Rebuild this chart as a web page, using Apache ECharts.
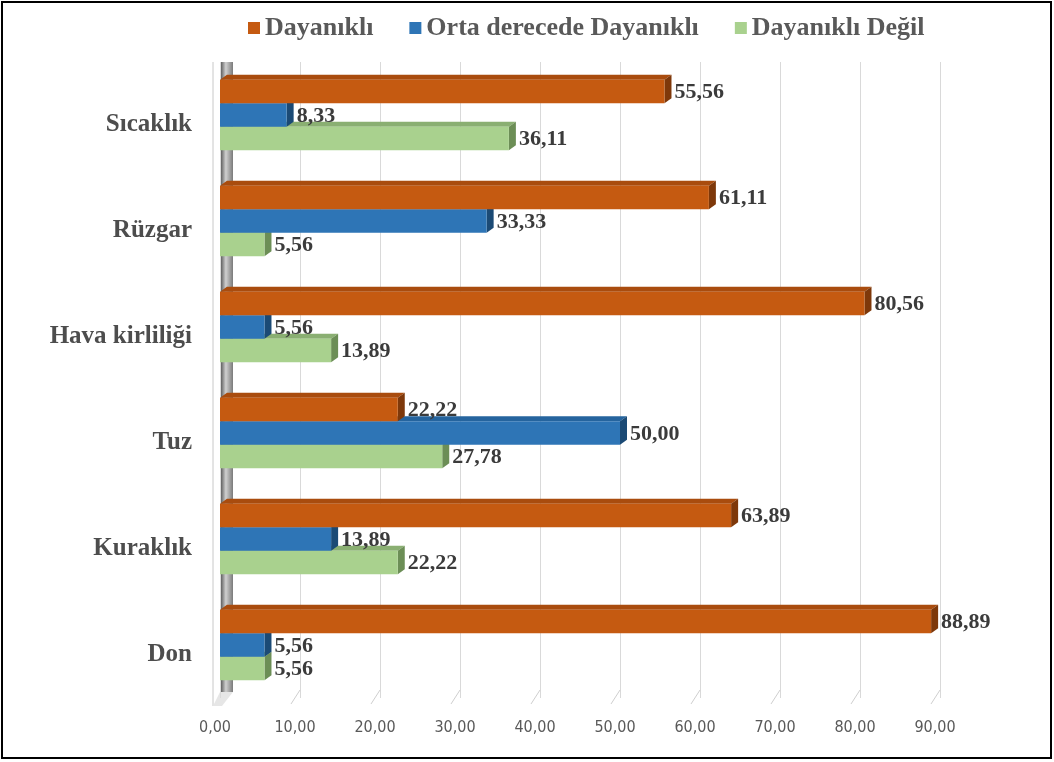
<!DOCTYPE html>
<html>
<head>
<meta charset="utf-8">
<script src="https://cdn.jsdelivr.net/npm/echarts@6/dist/echarts.min.js"></script>
<style>html,body{margin:0;padding:0;background:#fff;}#c{width:1054px;height:762px;}</style>
</head>
<body>
<div id="c"></div>
<script>
var categories = ['Sıcaklık', 'Rüzgar', 'Hava kirliliği', 'Tuz', 'Kuraklık', 'Don'];
var seriesNames = ['Dayanıklı', 'Orta derecede Dayanıklı', 'Dayanıklı Değil'];
var dayanikli = [55.56, 61.11, 80.56, 22.22, 63.89, 88.89];
var ortaDerecede = [8.33, 33.33, 5.56, 50.00, 13.89, 5.56];
var dayanikliDegil = [36.11, 5.56, 13.89, 27.78, 22.22, 5.56];
var xTicks = [0, 10, 20, 30, 40, 50, 60, 70, 80, 90];

var palettes = [
  {front: '#C55A11', top: '#A94C0E', side: '#7E380A'},
  {front: '#2E75B6', top: '#25649E', side: '#1B4A75'},
  {front: '#A9D18E', top: '#8AAF72', side: '#6C8E56'}
];
var fmt = function (v) { return v.toFixed(2).replace('.', ','); };
var DX = 7, DY = -5;

function makeRender(si) {
  var pal = palettes[si];
  return function (params, api) {
    var v = api.value(0), c = api.value(1);
    var p0 = api.coord([0, c]);
    var p1 = api.coord([v, c]);
    var band = api.size([0, 1])[1];
    var h = band * 0.222;
    var yTop = p0[1] - 1.5 * h + si * h;
    var x0 = p0[0], x1 = p1[0];
    return {
      type: 'group',
      children: [
        {type: 'polygon', shape: {points: [[x0, yTop], [x0 + DX, yTop + DY], [x1 + DX, yTop + DY], [x1, yTop]]}, style: {fill: pal.top}},
        {type: 'polygon', shape: {points: [[x1, yTop], [x1 + DX, yTop + DY], [x1 + DX, yTop + h + DY], [x1, yTop + h]]}, style: {fill: pal.side}},
        {type: 'rect', shape: {x: x0, y: yTop, width: x1 - x0, height: h}, style: {fill: pal.front}},
        {type: 'text', z2: 10, style: {x: x1 + DX + 3, y: yTop + h / 2 + 1, text: fmt(v), fill: '#3b3b3b',
          font: 'bold 22px "Liberation Serif", "Times New Roman", serif', align: 'left', verticalAlign: 'middle'}}
      ]
    };
  };
}

var allValues = [dayanikli, ortaDerecede, dayanikliDegil];
var series = allValues.map(function (vals, si) {
  return {
    type: 'custom',
    name: seriesNames[si],
    z: 4 - si,
    itemStyle: {color: palettes[si].front},
    renderItem: makeRender(si),
    encode: {x: 0, y: 1},
    data: vals.map(function (v, i) { return [v, i]; })
  };
});

// floor diagonal ticks
series.push({
  type: 'custom',
  silent: true,
  z: 1,
  renderItem: function (params, api) {
    var p = api.coord([api.value(0), 5]);
    var band = api.size([0, 1])[1];
    var yb = p[1] + band / 2;
    return {type: 'line', shape: {x1: p[0], y1: yb - 8, x2: p[0] - 9, y2: yb + 6}, style: {stroke: '#cfcfcf', lineWidth: 1}};
  },
  data: xTicks.slice(1).map(function (t) { return [t]; })
});

var chart = echarts.init(document.getElementById('c'));
chart.setOption({
  backgroundColor: '#ffffff',
  animation: false,
  legend: {
    data: seriesNames,
    top: 10,
    left: 243,
    icon: 'rect',
    itemWidth: 12,
    itemHeight: 12,
    itemGap: 36,
    textStyle: {fontFamily: '"Liberation Serif", "Times New Roman", serif', fontWeight: 'bold', fontSize: 26, color: '#595959'}
  },
  grid: {left: 220, right: 114, top: 62, bottom: 64, containLabel: false},
  xAxis: {
    type: 'value', min: 0, max: 90, interval: 10,
    axisLine: {show: false}, axisTick: {show: false},
    splitLine: {show: true, lineStyle: {color: '#d9d9d9', width: 1}},
    axisLabel: {formatter: fmt, fontFamily: '"Liberation Sans Narrow", "DejaVu Sans Condensed", "Liberation Sans", sans-serif', fontSize: 16, color: '#595959', margin: 22, padding: [0, 10, 0, 0]}
  },
  yAxis: {
    type: 'category', data: categories, inverse: true,
    axisLine: {show: false}, axisTick: {show: false}, splitLine: {show: false},
    axisLabel: {
      margin: 28,
      formatter: function (v) { return '{c|' + v + '}'; },
      rich: {c: {fontFamily: '"Liberation Serif", "Times New Roman", serif', fontWeight: 'bold', fontSize: 25, color: '#4d4d4d', padding: [20, 0, 0, 0]}}
    }
  },
  graphic: [
    {type: 'rect', z: 0, shape: {x: 2, y: 2, width: 1049, height: 756}, style: {fill: 'none', stroke: '#000', lineWidth: 2}},
    {type: 'line', z: 0, shape: {x1: 213, y1: 62, x2: 213, y2: 706}, style: {stroke: '#c8c8c8', lineWidth: 1}},
    {type: 'rect', z: 0, shape: {x: 220, y: 62, width: 13, height: 630},
      style: {fill: new echarts.graphic.LinearGradient(0, 0, 1, 0, [
        {offset: 0, color: '#4a4a4a'}, {offset: 0.45, color: '#d0d0d0'}, {offset: 1, color: '#7a7a7a'}])}},
    {type: 'polygon', z: 0, shape: {points: [[213, 706], [220, 692], [233, 692], [222, 706]]}, style: {fill: '#e6e6e6'}}
  ],
  series: series
});
</script>
</body>
</html>
